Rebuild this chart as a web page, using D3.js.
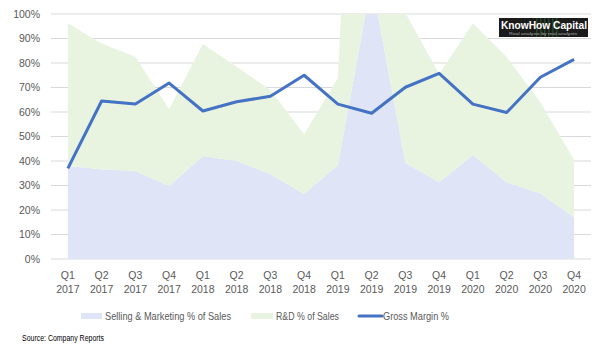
<!DOCTYPE html>
<html>
<head>
<meta charset="utf-8">
<script src="https://cdn.jsdelivr.net/npm/d3@7"></script>
<style>
  body { margin: 0; background: #fff; }
  svg { display: block; font-family: "Liberation Sans", Arial, sans-serif; }
</style>
</head>
<body>
<svg id="chart" width="607" height="351"></svg>
<script>
// values in %
const quarters = ["Q1 2017","Q2 2017","Q3 2017","Q4 2017","Q1 2018","Q2 2018","Q3 2018","Q4 2018",
                  "Q1 2019","Q2 2019","Q3 2019","Q4 2019","Q1 2020","Q2 2020","Q3 2020","Q4 2020"];
const sellingMarketing = [38.0, 36.6, 35.9, 29.8, 42.0, 40.0, 34.7, 26.5, 38.4, 113.5, 39.3, 31.3, 42.4, 31.3, 26.8, 16.9];
const researchDev      = [58.2, 51.4, 46.7, 31.3, 45.8, 38.5, 34.3, 24.4, 35.5, 246.0, 61.2, 44.2, 53.8, 51.2, 37.2, 23.5];
const grossMargin      = [37.0, 64.5, 63.3, 71.8, 60.4, 64.2, 66.4, 75.0, 63.2, 59.5, 70.1, 75.8, 63.2, 59.8, 74.2, 81.5];
const yTicks = [0, 10, 20, 30, 40, 50, 60, 70, 80, 90, 100];
const seriesNames = ["Selling & Marketing % of Sales", "R&D % of Sales", "Gross Margin %"];

const svg = d3.select('#chart');
const M = {left: 51, right: 591, top: 14, bottom: 259};

const x = d3.scaleBand().domain(quarters).range([M.left, M.right]);
const cx = d => x(d) + x.bandwidth() / 2;
const y = d3.scaleLinear().domain([0, 100]).range([M.bottom, M.top]);

// gridlines
svg.append('g').selectAll('line').data(yTicks).enter().append('line')
  .attr('x1', M.left).attr('x2', M.right)
  .attr('y1', d => y(d)).attr('y2', d => y(d))
  .attr('stroke', '#d9d9d9').attr('stroke-width', 1);

// y labels
svg.append('g').selectAll('text').data(yTicks).enter().append('text')
  .attr('x', 40).attr('y', d => y(d)).attr('dy', '0.35em')
  .attr('text-anchor', 'end')
  .attr('font-size', 10.5).attr('fill', '#595959')
  .text(d => d + '%');

// stacked areas
const rows = quarters.map((q, i) => ({q: q, sm: sellingMarketing[i], rd: researchDev[i]}));
const stacked = d3.stack().keys(['sm', 'rd'])(rows);
const fills = {sm: '#dfe5f6', rd: '#e9f4e0'};

svg.append('clipPath').attr('id', 'plotclip')
  .append('rect').attr('x', M.left).attr('y', M.top)
  .attr('width', M.right - M.left).attr('height', M.bottom - M.top);

const area = d3.area()
  .x(d => cx(d.data.q))
  .y0(d => y(d[0]))
  .y1(d => y(d[1]));

svg.append('g').attr('clip-path', 'url(#plotclip)')
  .selectAll('path').data(stacked).enter().append('path')
    .attr('d', area)
    .attr('fill', d => fills[d.key]);

// gross margin line
const line = d3.line().x((d, i) => cx(quarters[i])).y(d => y(d));
svg.append('path')
  .attr('d', line(grossMargin))
  .attr('fill', 'none')
  .attr('stroke', '#4472c4')
  .attr('stroke-width', 3)
  .attr('stroke-linejoin', 'round');

// x labels (two lines)
const xl = svg.append('g').selectAll('text').data(quarters).enter().append('text')
  .attr('text-anchor', 'middle').attr('font-size', 10.5).attr('fill', '#595959');
xl.append('tspan').attr('x', d => cx(d)).attr('y', 279).text(d => d.split(' ')[0]);
xl.append('tspan').attr('x', d => cx(d)).attr('y', 293).text(d => d.split(' ')[1]);

// legend (text squeezed to the narrower Calibri-like widths of the original)
const legend = svg.append('g').attr('font-size', 11).attr('fill', '#595959');
legend.append('rect').attr('x', 81).attr('y', 313).attr('width', 21).attr('height', 6).attr('fill', fills.sm);
legend.append('text').attr('x', 105).attr('y', 320)
  .attr('textLength', 126).attr('lengthAdjust', 'spacingAndGlyphs').text(seriesNames[0]);
legend.append('rect').attr('x', 251).attr('y', 313).attr('width', 22).attr('height', 6).attr('fill', fills.rd);
legend.append('text').attr('x', 276).attr('y', 320)
  .attr('textLength', 63).attr('lengthAdjust', 'spacingAndGlyphs').text(seriesNames[1]);
legend.append('line').attr('x1', 359).attr('x2', 382).attr('y1', 316).attr('y2', 316)
  .attr('stroke', '#4472c4').attr('stroke-width', 3).attr('stroke-linecap', 'round');
legend.append('text').attr('x', 383).attr('y', 320)
  .attr('textLength', 66).attr('lengthAdjust', 'spacingAndGlyphs').text(seriesNames[2]);

// source
svg.append('text').attr('x', 22).attr('y', 341)
  .attr('font-size', 8.5).attr('fill', '#000')
  .attr('textLength', 82).attr('lengthAdjust', 'spacingAndGlyphs')
  .text('Source: Company Reports');

// logo
const logo = svg.append('g');
logo.append('rect').attr('x', 499).attr('y', 18).attr('width', 89).attr('height', 19).attr('fill', '#1b1b1b');
[536, 540, 544, 548, 552, 556].forEach(px => {
  logo.append('rect').attr('x', px).attr('y', 18).attr('width', 1.5).attr('height', 19)
    .attr('fill', '#2f6b2f').attr('opacity', 0.5);
});
logo.append('text').attr('x', 501).attr('y', 28.5)
  .attr('font-size', 10.5).attr('font-weight', 'bold').attr('fill', '#fff')
  .attr('textLength', 86).attr('lengthAdjust', 'spacingAndGlyphs')
  .text('KnowHow Capital');
logo.append('text').attr('x', 509).attr('y', 35.2)
  .attr('font-size', 4).attr('fill', '#aaa')
  .attr('textLength', 68).attr('lengthAdjust', 'spacingAndGlyphs')
  .text('Real analysis by real analysts');
</script>
</body>
</html>
